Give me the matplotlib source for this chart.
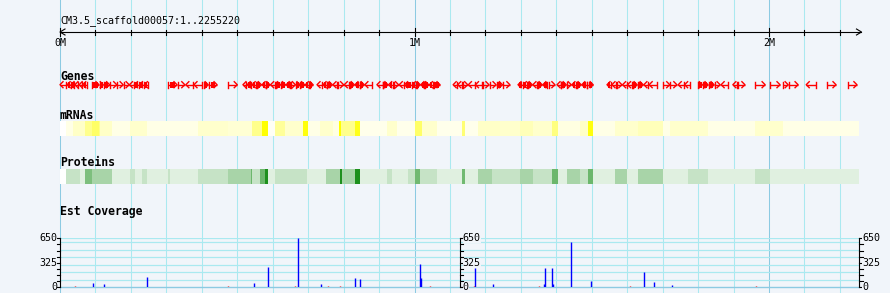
import matplotlib
matplotlib.use('Agg')
import matplotlib.pyplot as plt
from matplotlib.colors import LinearSegmentedColormap
import numpy as np

# sequence (positions in kb)
seq_title = 'CM3.5_scaffold00057:1..2255220'
seq_len = 2255.22
ruler_labels = ['0M', '1M', '2M']

# Genes track: start, end (kb), strand, drawn with a solid exon box
gene_start = ([0, 20, 31, 42, 54, 64]
              + [90, 112, 124, 142, 162, 180, 196, 210, 224, 238]
              + [305, 334, 355, 378, 405, 420] + [474]
              + [516, 528, 542, 555, 570, 582, 594, 608, 624, 638, 652, 666]
              + [678, 692, 704] + [725, 742, 754, 770]
              + [784, 802, 818, 832, 847, 860] + [894, 912, 927, 942, 957, 972]
              + [994, 1006, 1018, 1030, 1042, 1054]
              + [1109, 1122, 1137, 1152, 1172, 1192, 1212, 1232, 1250]
              + [1292, 1307, 1320, 1334, 1348, 1362, 1378]
              + [1402, 1414, 1430, 1444, 1458, 1472, 1488]
              + [1543, 1557, 1570, 1587] + [1601, 1616, 1630, 1647, 1662]
              + [1701, 1722, 1744, 1762] + [1800, 1814, 1830, 1848, 1865]
              + [1898, 1912] + [1961, 2003, 2040, 2056, 2105, 2164, 2223])
gene_end = ([18, 30, 40, 52, 62, 76]
            + [110, 122, 140, 160, 178, 195, 208, 222, 236, 248]
            + [330, 352, 375, 400, 418, 443] + [500]
            + [526, 540, 552, 568, 580, 592, 606, 622, 636, 650, 664, 677]
            + [690, 702, 714] + [740, 752, 768, 781]
            + [800, 815, 830, 845, 858, 880] + [910, 925, 940, 955, 970, 993]
            + [1004, 1016, 1028, 1040, 1052, 1072]
            + [1120, 1135, 1150, 1170, 1190, 1210, 1230, 1248, 1269]
            + [1305, 1318, 1332, 1346, 1360, 1375, 1396]
            + [1412, 1428, 1442, 1456, 1470, 1486, 1504]
            + [1555, 1568, 1585, 1600] + [1614, 1628, 1645, 1660, 1684]
            + [1720, 1740, 1760, 1777] + [1812, 1828, 1845, 1862, 1884]
            + [1910, 1932] + [1989, 2031, 2054, 2082, 2133, 2189, 2248])
gene_strand = ([-1, -1, -1, -1, -1, -1]
               + [1, 1, 1, 1, 1, 1, -1, -1, -1, -1]
               + [1, 1, -1, -1, 1, 1] + [1]
               + [-1, -1, -1, 1, -1, 1, -1, 1, 1, -1, 1, 1]
               + [1, -1, 1] + [-1, -1, 1, -1]
               + [1, -1, 1, -1, 1, -1] + [-1, 1, -1, 1, -1, -1]
               + [-1, 1, -1, 1, -1, 1]
               + [-1, -1, 1, -1, -1, 1, 1, 1, 1]
               + [-1, -1, 1, -1, 1, -1, 1]
               + [-1, 1, 1, -1, 1, -1, 1]
               + [-1, -1, 1, -1] + [-1, 1, 1, -1, -1]
               + [1, 1, -1, -1] + [1, 1, 1, 1, -1]
               + [-1, 1] + [1, 1, 1, 1, -1, 1, 1])
gene_box = ([0, 1, 1, 0, 0, 1]
            + [1, 1, 1, 0, 0, 0, 0, 1, 1, 1]
            + [1, 0, 0, 0, 1, 1] + [0]
            + [0, 1, 1, 1, 1, 1, 0, 1, 1, 1, 0, 1]
            + [1, 1, 1] + [0, 1, 1, 0]
            + [0, 0, 1, 1, 1, 0] + [0, 1, 1, 0, 0, 1]
            + [1, 1, 1, 1, 1, 1]
            + [0, 0, 0, 0, 0, 0, 0, 1, 0]
            + [1, 1, 1, 0, 1, 1, 0]
            + [0, 1, 0, 1, 1, 1, 1]
            + [1, 0, 0, 0] + [0, 1, 1, 0, 0]
            + [0, 0, 0, 0] + [1, 1, 1, 0, 0]
            + [0, 0] + [0, 0, 0, 0, 0, 0, 0])

# mRNA density heat band: segment edges (kb) and intensity
mrna_edges = [0, 17, 37, 71, 90, 110, 113, 147, 197, 245, 389, 474, 542, 570,
              587, 607, 635, 685, 700, 733, 770, 787, 792, 832, 846, 922, 951,
              1001, 1021, 1063, 1134, 1142, 1179, 1241, 1298, 1334, 1388, 1405,
              1467, 1489, 1504, 1566, 1631, 1701, 1721, 1828, 1961, 2040, 2255.22]
mrna_level = [0.0, 0.1, 0.22, 0.45, 0.6, 0.45, 0.22, 0.1, 0.2, 0.1, 0.2, 0.17,
              0.45, 1.0, 0.04, 0.4, 0.2, 0.95, 0.1, 0.2, 0.12, 1.0, 0.45, 0.9,
              0.08, 0.2, 0.08, 0.6, 0.2, 0.08, 0.55, 0.08, 0.22, 0.2, 0.28, 0.2,
              0.5, 0.12, 0.22, 0.95, 0.1, 0.2, 0.27, 0.1, 0.2, 0.1, 0.2, 0.1]

# protein density heat band
prot_edges = [0, 17, 56, 71, 90, 147, 197, 212, 231, 245, 305, 310, 389, 474,
              539, 542, 564, 578, 587, 607, 697, 750, 790, 795, 832, 846, 922,
              936, 982, 1001, 1016, 1063, 1134, 1142, 1179, 1219, 1298, 1334,
              1388, 1405, 1430, 1467, 1489, 1504, 1566, 1600, 1631, 1701, 1772,
              1828, 1961, 2003, 2255.22]
prot_level = [0.0, 0.24, 0.13, 0.55, 0.37, 0.13, 0.24, 0.13, 0.24, 0.13, 0.24,
              0.13, 0.24, 0.37, 0.62, 0.24, 0.62, 0.95, 0.13, 0.24, 0.13, 0.37,
              0.95, 0.37, 0.95, 0.13, 0.24, 0.13, 0.24, 0.6, 0.24, 0.13, 0.6,
              0.13, 0.37, 0.24, 0.37, 0.24, 0.62, 0.13, 0.37, 0.24, 0.62, 0.13,
              0.37, 0.13, 0.37, 0.13, 0.24, 0.13, 0.24, 0.13]

# Est coverage (kb, count)
cov_pos = [94, 125, 246, 548, 588, 672, 735, 833, 847, 1016, 1019, 1170, 1222,
           1366, 1369, 1389, 1392, 1442, 1497, 1647, 1677, 1726]
cov_val = [57, 45, 135, 57, 265, 650, 45, 120, 105, 305, 120, 250, 50,
           50, 255, 255, 40, 600, 80, 208, 70, 25]
low_pos = [43, 475, 662, 757, 791, 1045, 1167, 1352, 1609, 1964]
low_val = [14, 14, 14, 14, 14, 14, 14, 14, 14, 14]
cov_max = 650

# layout: 0 kb at x=60 px, 1 Mb = 354.5 px
px = 1 / 0.3545          # kb per pixel
W, H = 890, 293
bg = '#f1f5fa'
grid_minor = '#aae9f0'
grid_major = '#8ccae2'
mono = 'DejaVu Sans Mono'

fig = plt.figure(figsize=(W / 100, H / 100), dpi=100, facecolor=bg)
ax = fig.add_axes([0, 0, 1, 1])
ax.set_xlim(-60 * px, (W - 60) * px)
ax.set_ylim(H, 0)
ax.axis('off')

# vertical grid every 100 kb
for k in range(0, 2300, 100):
    ax.axvline(k, color=grid_major if k % 1000 == 0 else grid_minor, lw=0.75, zorder=0)

# ruler
ax.plot([0, seq_len + 2 * px], [32, 32], color='black', lw=0.8)
for sgn, xe in ((1, 0), (-1, seq_len + 2 * px)):
    ax.plot([xe + sgn * 5 * px, xe, xe + sgn * 5 * px], [29, 32, 35], color='black', lw=0.8)
for k in range(0, 2300, 100):
    if k % 1000 == 0:
        ax.plot([k, k], [28, 36], color='black', lw=0.8)
        ax.text(k, 42.5, ruler_labels[k // 1000], ha='center', va='center',
                fontsize=7.2, family=mono)
    else:
        ax.plot([k, k], [29.5, 34.5], color='black', lw=0.8)
ax.text(0, 20.5, seq_title, ha='left', va='center', fontsize=7.2, family=mono)

# track labels
for lab, yl in (('Genes', 76), ('mRNAs', 115.5), ('Proteins', 163), ('Est Coverage', 211)):
    ax.text(0, yl, lab, ha='left', va='center', fontsize=8.3, family=mono, fontweight='bold')

# genes
yc = 84.7
for s, e, st, b in zip(gene_start, gene_end, gene_strand, gene_box):
    head, tail = (e, s) if st > 0 else (s, e)
    ax.plot([s, e], [yc, yc], color='red', lw=1.0, solid_capstyle='butt')
    ax.plot([tail, tail], [yc - 3, yc + 3], color='red', lw=1.0)
    ax.plot([head - st * 3 * px, head, head - st * 3 * px], [yc - 3, yc, yc + 3],
            color='red', lw=1.0)
    if b:
        ln = e - s
        ax.barh(yc, ln * 0.6, left=s + ln * 0.2, height=6, color='red', linewidth=0)

# heat bands
ycmap = LinearSegmentedColormap.from_list('y', ['white', '#ffff00'])
gcmap = LinearSegmentedColormap.from_list('g', ['white', '#128a12'])
for edges, lev, cmap, yb in ((mrna_edges, mrna_level, ycmap, 128.4),
                             (prot_edges, prot_level, gcmap, 176.5)):
    edges = np.array(edges)
    ax.barh(yb, np.diff(edges), left=edges[:-1], height=14.7,
            color=cmap(np.array(lev)), linewidth=0, antialiased=False, zorder=2)

# coverage panel
axc = fig.add_axes([0, (H - 287.3) / H, 1, 49 / H])
axc.set_xlim(ax.get_xlim())
axc.set_ylim(0, cov_max)
axc.axis('off')
for v in list(range(100, 700, 100)) + [cov_max]:
    axc.plot([0, seq_len], [v, v], color=grid_minor, lw=0.9, zorder=0)
axc.plot([0, seq_len], [0, 0], color=grid_major, lw=1.0, zorder=0, clip_on=False)
axc.vlines(cov_pos, 0, cov_val, color='blue', lw=1.0, zorder=3)
axc.vlines(low_pos, 0, low_val, color='red', lw=1.0, zorder=3)

tick_vals = np.linspace(0, cov_max, 9)
for xa, sgn in ((0, -1), (seq_len / 2, 1), (seq_len, 1)):
    axc.plot([xa, xa], [0, cov_max], color='black', lw=0.8, clip_on=False)
    for tv in tick_vals:
        axc.plot([xa, xa + sgn * 3.5 * px], [tv, tv], color='black', lw=0.8, clip_on=False)
    for tv in (0, cov_max / 2, cov_max):
        axc.text(xa + sgn * 3 * px, tv, '%d' % tv, ha='right' if sgn < 0 else 'left',
                 va='center', fontsize=7.2, family=mono, clip_on=False,
                 bbox=dict(boxstyle='square,pad=0', fc=bg, ec='none'))

fig.savefig('out.png', dpi=100, facecolor=bg)
